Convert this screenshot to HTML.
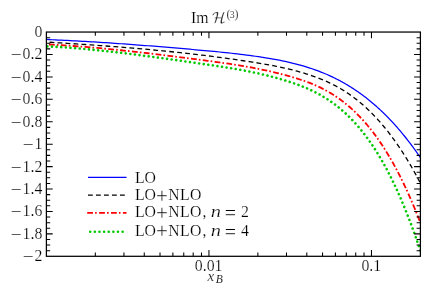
<!DOCTYPE html>
<html><head><meta charset="utf-8"><title>Im H(3)</title>
<style>
html,body{margin:0;padding:0;background:#fff;}
svg{display:block;}
text{font-family:"Liberation Serif",serif;fill:#000;stroke:#fff;stroke-width:0.2px;}
</style></head>
<body>
<svg width="442" height="290" viewBox="0 0 442 290">
<rect x="0" y="0" width="442" height="290" fill="#fff"/>
<defs><clipPath id="c"><rect x="46.4" y="32.05" width="374.0" height="224.25"/></clipPath></defs>
<g fill="none" clip-path="url(#c)">
<path d="M46.4,39.48 L49.4,39.61 L52.4,39.75 L55.4,39.88 L58.3,40.02 L61.3,40.17 L64.3,40.31 L67.3,40.46 L70.3,40.62 L73.3,40.78 L76.3,40.94 L79.2,41.10 L82.2,41.27 L85.2,41.44 L88.2,41.62 L91.2,41.80 L94.2,41.98 L97.1,42.16 L100.1,42.35 L103.1,42.54 L106.1,42.73 L109.1,42.93 L112.1,43.13 L115.1,43.33 L118.0,43.54 L121.0,43.75 L124.0,43.96 L127.0,44.17 L130.0,44.39 L133.0,44.61 L136.0,44.83 L138.9,45.06 L141.9,45.28 L144.9,45.51 L147.9,45.75 L150.9,45.98 L153.9,46.22 L156.9,46.46 L159.8,46.70 L162.8,46.94 L165.8,47.19 L168.8,47.44 L171.8,47.69 L174.8,47.94 L177.8,48.20 L180.7,48.46 L183.7,48.72 L186.7,48.98 L189.7,49.24 L192.7,49.50 L195.7,49.77 L198.6,50.04 L201.6,50.31 L204.6,50.58 L207.6,50.86 L210.6,51.14 L213.6,51.42 L216.6,51.71 L219.5,52.00 L222.5,52.31 L225.5,52.61 L228.5,52.93 L231.5,53.25 L234.5,53.59 L237.5,53.93 L240.4,54.29 L243.4,54.65 L246.4,55.03 L249.4,55.42 L252.4,55.83 L255.4,56.25 L258.4,56.68 L261.3,57.14 L264.3,57.60 L267.3,58.09 L270.3,58.59 L273.3,59.12 L276.3,59.66 L279.3,60.23 L282.2,60.83 L285.2,61.45 L288.2,62.11 L291.2,62.80 L294.2,63.53 L297.2,64.29 L300.1,65.10 L303.1,65.95 L306.1,66.84 L309.1,67.78 L312.1,68.77 L315.1,69.81 L318.1,70.90 L321.0,72.05 L324.0,73.26 L327.0,74.53 L330.0,75.87 L331.0,76.33 L331.6,76.61 L332.2,76.89 L332.8,77.18 L333.4,77.46 L334.0,77.76 L334.6,78.05 L335.2,78.35 L335.8,78.65 L336.4,78.95 L337.0,79.25 L337.6,79.56 L338.2,79.87 L338.8,80.18 L339.4,80.50 L340.0,80.82 L340.6,81.14 L341.2,81.47 L341.8,81.80 L342.4,82.13 L343.0,82.46 L343.6,82.80 L344.2,83.14 L344.8,83.48 L345.4,83.83 L346.0,84.18 L346.6,84.53 L347.2,84.89 L347.8,85.25 L348.4,85.61 L349.0,85.98 L349.6,86.35 L350.2,86.72 L350.8,87.09 L351.4,87.47 L352.0,87.85 L352.6,88.24 L353.2,88.63 L353.8,89.02 L354.4,89.41 L355.0,89.81 L355.6,90.21 L356.2,90.62 L356.8,91.03 L357.4,91.44 L358.0,91.86 L358.6,92.28 L359.2,92.70 L359.8,93.12 L360.4,93.55 L361.0,93.99 L361.6,94.42 L362.2,94.86 L362.8,95.31 L363.4,95.76 L364.0,96.21 L364.6,96.66 L365.2,97.12 L365.8,97.59 L366.4,98.05 L367.0,98.52 L367.6,99.00 L368.2,99.47 L368.8,99.95 L369.4,100.44 L370.0,100.93 L370.6,101.42 L371.2,101.92 L371.8,102.42 L372.4,102.92 L373.0,103.43 L373.6,103.95 L374.2,104.46 L374.8,104.98 L375.4,105.51 L376.0,106.04 L376.6,106.57 L377.2,107.10 L377.8,107.65 L378.4,108.19 L379.0,108.74 L379.6,109.29 L380.2,109.85 L380.8,110.41 L381.4,110.98 L382.0,111.55 L382.6,112.12 L383.2,112.70 L383.8,113.28 L384.4,113.87 L385.0,114.46 L385.6,115.05 L386.2,115.65 L386.8,116.26 L387.4,116.87 L388.0,117.48 L388.6,118.10 L389.2,118.72 L389.8,119.35 L390.4,119.98 L391.0,120.61 L391.6,121.25 L392.2,121.90 L392.8,122.54 L393.4,123.20 L394.0,123.86 L394.6,124.52 L395.2,125.19 L395.8,125.86 L396.4,126.53 L397.0,127.21 L397.6,127.90 L398.2,128.59 L398.8,129.29 L399.4,129.99 L400.0,130.69 L400.6,131.40 L401.2,132.11 L401.8,132.83 L402.4,133.56 L403.0,134.28 L403.6,135.02 L404.2,135.76 L404.8,136.50 L405.4,137.25 L406.0,138.00 L406.6,138.76 L407.2,139.52 L407.8,140.29 L408.4,141.06 L409.0,141.84 L409.6,142.62 L410.2,143.41 L410.8,144.21 L411.4,145.00 L412.0,145.81 L412.6,146.62 L413.2,147.43 L413.8,148.25 L414.4,149.07 L415.0,149.90 L415.6,150.74 L416.2,151.58 L416.8,152.42 L417.4,153.27 L418.0,154.13 L418.6,154.99 L419.2,155.85 L419.8,156.73 L420.4,157.60" stroke="#0000ff" stroke-width="1.25" stroke-linejoin="round" stroke-linecap="butt"/>
<path d="M46.4,42.06 L49.4,42.24 L52.4,42.42 L55.4,42.60 L58.3,42.78 L61.3,42.97 L64.3,43.15 L67.3,43.34 L70.3,43.53 L73.3,43.72 L76.3,43.92 L79.2,44.12 L82.2,44.31 L85.2,44.52 L88.2,44.72 L91.2,44.93 L94.2,45.14 L97.1,45.35 L100.1,45.56 L103.1,45.78 L106.1,46.00 L109.1,46.23 L112.1,46.45 L115.1,46.68 L118.0,46.92 L121.0,47.15 L124.0,47.39 L127.0,47.64 L130.0,47.89 L133.0,48.14 L136.0,48.39 L138.9,48.65 L141.9,48.91 L144.9,49.18 L147.9,49.45 L150.9,49.73 L153.9,50.00 L156.9,50.29 L159.8,50.58 L162.8,50.87 L165.8,51.16 L168.8,51.47 L171.8,51.77 L174.8,52.08 L177.8,52.40 L180.7,52.72 L183.7,53.05 L186.7,53.38 L189.7,53.71 L192.7,54.05 L195.7,54.40 L198.6,54.75 L201.6,55.11 L204.6,55.47 L207.6,55.84 L210.6,56.22 L213.6,56.60 L216.6,56.98 L219.5,57.37 L222.5,57.77 L225.5,58.18 L228.5,58.59 L231.5,59.00 L234.5,59.43 L237.5,59.86 L240.4,60.29 L243.4,60.74 L246.4,61.18 L249.4,61.64 L252.4,62.10 L255.4,62.57 L258.4,63.06 L261.3,63.55 L264.3,64.06 L267.3,64.58 L270.3,65.13 L273.3,65.69 L276.3,66.28 L279.3,66.89 L282.2,67.53 L285.2,68.19 L288.2,68.89 L291.2,69.61 L294.2,70.38 L297.2,71.18 L300.1,72.01 L303.1,72.89 L306.1,73.81 L309.1,74.77 L312.1,75.78 L315.1,76.84 L318.1,77.96 L321.0,79.13 L324.0,80.37 L327.0,81.68 L330.0,83.07 L331.0,83.55 L331.6,83.84 L332.2,84.14 L332.8,84.44 L333.4,84.75 L334.0,85.06 L334.6,85.37 L335.2,85.68 L335.8,86.00 L336.4,86.33 L337.0,86.65 L337.6,86.99 L338.2,87.32 L338.8,87.66 L339.4,88.00 L340.0,88.35 L340.6,88.70 L341.2,89.06 L341.8,89.42 L342.4,89.78 L343.0,90.15 L343.6,90.52 L344.2,90.89 L344.8,91.28 L345.4,91.66 L346.0,92.05 L346.6,92.44 L347.2,92.84 L347.8,93.24 L348.4,93.65 L349.0,94.06 L349.6,94.48 L350.2,94.90 L350.8,95.32 L351.4,95.75 L352.0,96.18 L352.6,96.62 L353.2,97.07 L353.8,97.51 L354.4,97.96 L355.0,98.42 L355.6,98.88 L356.2,99.35 L356.8,99.82 L357.4,100.30 L358.0,100.78 L358.6,101.26 L359.2,101.75 L359.8,102.25 L360.4,102.75 L361.0,103.26 L361.6,103.77 L362.2,104.28 L362.8,104.80 L363.4,105.33 L364.0,105.86 L364.6,106.40 L365.2,106.94 L365.8,107.49 L366.4,108.04 L367.0,108.60 L367.6,109.16 L368.2,109.73 L368.8,110.30 L369.4,110.88 L370.0,111.47 L370.6,112.06 L371.2,112.65 L371.8,113.25 L372.4,113.86 L373.0,114.47 L373.6,115.09 L374.2,115.71 L374.8,116.34 L375.4,116.98 L376.0,117.62 L376.6,118.27 L377.2,118.92 L377.8,119.58 L378.4,120.24 L379.0,120.91 L379.6,121.59 L380.2,122.27 L380.8,122.96 L381.4,123.65 L382.0,124.35 L382.6,125.06 L383.2,125.77 L383.8,126.49 L384.4,127.21 L385.0,127.94 L385.6,128.68 L386.2,129.43 L386.8,130.18 L387.4,130.93 L388.0,131.69 L388.6,132.46 L389.2,133.24 L389.8,134.02 L390.4,134.81 L391.0,135.60 L391.6,136.40 L392.2,137.21 L392.8,138.03 L393.4,138.85 L394.0,139.68 L394.6,140.51 L395.2,141.35 L395.8,142.20 L396.4,143.05 L397.0,143.92 L397.6,144.78 L398.2,145.66 L398.8,146.54 L399.4,147.43 L400.0,148.33 L400.6,149.23 L401.2,150.14 L401.8,151.06 L402.4,151.98 L403.0,152.91 L403.6,153.85 L404.2,154.80 L404.8,155.75 L405.4,156.71 L406.0,157.68 L406.6,158.65 L407.2,159.63 L407.8,160.62 L408.4,161.62 L409.0,162.62 L409.6,163.64 L410.2,164.66 L410.8,165.68 L411.4,166.72 L412.0,167.76 L412.6,168.81 L413.2,169.86 L413.8,170.93 L414.4,172.00 L415.0,173.08 L415.6,174.17 L416.2,175.26 L416.8,176.37 L417.4,177.48 L418.0,178.60 L418.6,179.72 L419.2,180.86 L419.8,182.00 L420.4,183.15" stroke="#000000" stroke-width="1.3" stroke-linejoin="round" stroke-dasharray="4.8 3.2" stroke-linecap="butt" stroke-dashoffset="4.8"/>
<path d="M46.4,44.37 L49.4,44.52 L52.4,44.68 L55.4,44.85 L58.3,45.02 L61.3,45.21 L64.3,45.40 L67.3,45.59 L70.3,45.80 L73.3,46.01 L76.3,46.23 L79.2,46.46 L82.2,46.69 L85.2,46.93 L88.2,47.17 L91.2,47.43 L94.2,47.69 L97.1,47.95 L100.1,48.22 L103.1,48.50 L106.1,48.78 L109.1,49.07 L112.1,49.36 L115.1,49.66 L118.0,49.96 L121.0,50.27 L124.0,50.58 L127.0,50.90 L130.0,51.23 L133.0,51.55 L136.0,51.88 L138.9,52.22 L141.9,52.56 L144.9,52.90 L147.9,53.25 L150.9,53.60 L153.9,53.96 L156.9,54.32 L159.8,54.68 L162.8,55.04 L165.8,55.41 L168.8,55.78 L171.8,56.15 L174.8,56.53 L177.8,56.91 L180.7,57.29 L183.7,57.67 L186.7,58.06 L189.7,58.44 L192.7,58.83 L195.7,59.22 L198.6,59.61 L201.6,60.01 L204.6,60.40 L207.6,60.80 L210.6,61.20 L213.6,61.60 L216.6,62.02 L219.5,62.43 L222.5,62.86 L225.5,63.29 L228.5,63.73 L231.5,64.19 L234.5,64.65 L237.5,65.12 L240.4,65.61 L243.4,66.11 L246.4,66.63 L249.4,67.16 L252.4,67.71 L255.4,68.28 L258.4,68.86 L261.3,69.46 L264.3,70.09 L267.3,70.73 L270.3,71.40 L273.3,72.09 L276.3,72.80 L279.3,73.54 L282.2,74.30 L285.2,75.09 L288.2,75.91 L291.2,76.75 L294.2,77.63 L297.2,78.54 L300.1,79.50 L303.1,80.51 L306.1,81.57 L309.1,82.69 L312.1,83.88 L315.1,85.15 L318.1,86.49 L321.0,87.91 L324.0,89.43 L327.0,91.04 L330.0,92.76 L331.0,93.35 L331.6,93.72 L332.2,94.09 L332.8,94.46 L333.4,94.84 L334.0,95.23 L334.6,95.61 L335.2,96.01 L335.8,96.40 L336.4,96.81 L337.0,97.21 L337.6,97.63 L338.2,98.04 L338.8,98.47 L339.4,98.89 L340.0,99.33 L340.6,99.76 L341.2,100.21 L341.8,100.65 L342.4,101.11 L343.0,101.57 L343.6,102.03 L344.2,102.50 L344.8,102.98 L345.4,103.46 L346.0,103.94 L346.6,104.43 L347.2,104.93 L347.8,105.43 L348.4,105.94 L349.0,106.46 L349.6,106.98 L350.2,107.50 L350.8,108.04 L351.4,108.57 L352.0,109.12 L352.6,109.67 L353.2,110.22 L353.8,110.79 L354.4,111.36 L355.0,111.93 L355.6,112.51 L356.2,113.10 L356.8,113.69 L357.4,114.29 L358.0,114.90 L358.6,115.51 L359.2,116.13 L359.8,116.75 L360.4,117.39 L361.0,118.02 L361.6,118.67 L362.2,119.32 L362.8,119.98 L363.4,120.65 L364.0,121.32 L364.6,122.00 L365.2,122.68 L365.8,123.38 L366.4,124.08 L367.0,124.78 L367.6,125.50 L368.2,126.22 L368.8,126.95 L369.4,127.68 L370.0,128.43 L370.6,129.18 L371.2,129.94 L371.8,130.70 L372.4,131.48 L373.0,132.26 L373.6,133.05 L374.2,133.84 L374.8,134.65 L375.4,135.46 L376.0,136.28 L376.6,137.11 L377.2,137.94 L377.8,138.79 L378.4,139.64 L379.0,140.50 L379.6,141.37 L380.2,142.25 L380.8,143.13 L381.4,144.03 L382.0,144.93 L382.6,145.84 L383.2,146.76 L383.8,147.69 L384.4,148.62 L385.0,149.57 L385.6,150.52 L386.2,151.49 L386.8,152.46 L387.4,153.44 L388.0,154.43 L388.6,155.43 L389.2,156.44 L389.8,157.45 L390.4,158.48 L391.0,159.51 L391.6,160.56 L392.2,161.61 L392.8,162.68 L393.4,163.75 L394.0,164.83 L394.6,165.93 L395.2,167.03 L395.8,168.14 L396.4,169.26 L397.0,170.39 L397.6,171.54 L398.2,172.69 L398.8,173.85 L399.4,175.02 L400.0,176.20 L400.6,177.39 L401.2,178.59 L401.8,179.81 L402.4,181.03 L403.0,182.26 L403.6,183.51 L404.2,184.76 L404.8,186.02 L405.4,187.30 L406.0,188.58 L406.6,189.88 L407.2,191.19 L407.8,192.50 L408.4,193.83 L409.0,195.17 L409.6,196.52 L410.2,197.88 L410.8,199.26 L411.4,200.64 L412.0,202.04 L412.6,203.44 L413.2,204.86 L413.8,206.29 L414.4,207.73 L415.0,209.18 L415.6,210.64 L416.2,212.12 L416.8,213.60 L417.4,215.10 L418.0,216.61 L418.6,218.13 L419.2,219.67 L419.8,221.21 L420.4,222.77" stroke="#ff0000" stroke-width="1.8" stroke-linejoin="round" stroke-dasharray="5.8 2.1 1.6 2.4" stroke-linecap="butt" stroke-dashoffset="9.35"/>
<path d="M46.4,46.29 L49.4,46.44 L52.4,46.61 L55.4,46.78 L58.3,46.97 L61.3,47.16 L64.3,47.37 L67.3,47.58 L70.3,47.81 L73.3,48.04 L76.3,48.28 L79.2,48.53 L82.2,48.79 L85.2,49.06 L88.2,49.34 L91.2,49.62 L94.2,49.92 L97.1,50.22 L100.1,50.52 L103.1,50.84 L106.1,51.16 L109.1,51.49 L112.1,51.82 L115.1,52.16 L118.0,52.51 L121.0,52.86 L124.0,53.22 L127.0,53.58 L130.0,53.95 L133.0,54.33 L136.0,54.70 L138.9,55.09 L141.9,55.47 L144.9,55.87 L147.9,56.26 L150.9,56.66 L153.9,57.06 L156.9,57.47 L159.8,57.88 L162.8,58.29 L165.8,58.70 L168.8,59.12 L171.8,59.54 L174.8,59.96 L177.8,60.38 L180.7,60.80 L183.7,61.23 L186.7,61.65 L189.7,62.08 L192.7,62.51 L195.7,62.94 L198.6,63.37 L201.6,63.80 L204.6,64.22 L207.6,64.66 L210.6,65.09 L213.6,65.53 L216.6,65.97 L219.5,66.42 L222.5,66.88 L225.5,67.35 L228.5,67.82 L231.5,68.31 L234.5,68.82 L237.5,69.33 L240.4,69.86 L243.4,70.41 L246.4,70.97 L249.4,71.56 L252.4,72.16 L255.4,72.79 L258.4,73.43 L261.3,74.10 L264.3,74.80 L267.3,75.52 L270.3,76.27 L273.3,77.05 L276.3,77.86 L279.3,78.69 L282.2,79.56 L285.2,80.47 L288.2,81.41 L291.2,82.38 L294.2,83.39 L297.2,84.45 L300.1,85.56 L303.1,86.73 L306.1,87.97 L309.1,89.27 L312.1,90.65 L315.1,92.12 L318.1,93.68 L321.0,95.33 L324.0,97.08 L327.0,98.95 L330.0,100.93 L331.0,101.62 L331.6,102.04 L332.2,102.47 L332.8,102.90 L333.4,103.33 L334.0,103.78 L334.6,104.22 L335.2,104.68 L335.8,105.13 L336.4,105.60 L337.0,106.06 L337.6,106.54 L338.2,107.02 L338.8,107.50 L339.4,107.99 L340.0,108.49 L340.6,108.99 L341.2,109.50 L341.8,110.02 L342.4,110.54 L343.0,111.06 L343.6,111.59 L344.2,112.13 L344.8,112.68 L345.4,113.23 L346.0,113.79 L346.6,114.35 L347.2,114.92 L347.8,115.49 L348.4,116.08 L349.0,116.67 L349.6,117.26 L350.2,117.86 L350.8,118.47 L351.4,119.09 L352.0,119.71 L352.6,120.34 L353.2,120.98 L353.8,121.62 L354.4,122.27 L355.0,122.93 L355.6,123.59 L356.2,124.26 L356.8,124.94 L357.4,125.63 L358.0,126.32 L358.6,127.02 L359.2,127.73 L359.8,128.45 L360.4,129.17 L361.0,129.90 L361.6,130.64 L362.2,131.38 L362.8,132.14 L363.4,132.90 L364.0,133.67 L364.6,134.45 L365.2,135.23 L365.8,136.03 L366.4,136.83 L367.0,137.64 L367.6,138.46 L368.2,139.29 L368.8,140.12 L369.4,140.97 L370.0,141.82 L370.6,142.68 L371.2,143.55 L371.8,144.43 L372.4,145.32 L373.0,146.21 L373.6,147.12 L374.2,148.03 L374.8,148.96 L375.4,149.89 L376.0,150.83 L376.6,151.79 L377.2,152.75 L377.8,153.72 L378.4,154.70 L379.0,155.69 L379.6,156.69 L380.2,157.70 L380.8,158.71 L381.4,159.74 L382.0,160.78 L382.6,161.83 L383.2,162.89 L383.8,163.96 L384.4,165.03 L385.0,166.12 L385.6,167.22 L386.2,168.33 L386.8,169.45 L387.4,170.58 L388.0,171.72 L388.6,172.88 L389.2,174.04 L389.8,175.21 L390.4,176.39 L391.0,177.59 L391.6,178.80 L392.2,180.01 L392.8,181.24 L393.4,182.48 L394.0,183.73 L394.6,184.99 L395.2,186.26 L395.8,187.55 L396.4,188.84 L397.0,190.15 L397.6,191.47 L398.2,192.80 L398.8,194.14 L399.4,195.49 L400.0,196.86 L400.6,198.24 L401.2,199.63 L401.8,201.03 L402.4,202.44 L403.0,203.87 L403.6,205.31 L404.2,206.76 L404.8,208.22 L405.4,209.70 L406.0,211.18 L406.6,212.68 L407.2,214.20 L407.8,215.72 L408.4,217.26 L409.0,218.81 L409.6,220.38 L410.2,221.95 L410.8,223.54 L411.4,225.15 L412.0,226.76 L412.6,228.39 L413.2,230.04 L413.8,231.69 L414.4,233.36 L415.0,235.05 L415.6,236.74 L416.2,238.45 L416.8,240.18 L417.4,241.92 L418.0,243.67 L418.6,245.43 L419.2,247.21 L419.8,249.01 L420.4,250.81" stroke="#00c800" stroke-width="2.6" stroke-linejoin="round" stroke-dasharray="0.01 4.62" stroke-linecap="round" stroke-dashoffset="3.68"/>
</g>
<path d="M46.4,37.66h3.8M420.4,37.66h-3.8M46.4,43.26h3.8M420.4,43.26h-3.8M46.4,48.87h3.8M420.4,48.87h-3.8M46.4,54.47h6.3M420.4,54.47h-6.3M46.4,60.08h3.8M420.4,60.08h-3.8M46.4,65.69h3.8M420.4,65.69h-3.8M46.4,71.29h3.8M420.4,71.29h-3.8M46.4,76.90h6.3M420.4,76.90h-6.3M46.4,82.51h3.8M420.4,82.51h-3.8M46.4,88.11h3.8M420.4,88.11h-3.8M46.4,93.72h3.8M420.4,93.72h-3.8M46.4,99.33h6.3M420.4,99.33h-6.3M46.4,104.93h3.8M420.4,104.93h-3.8M46.4,110.54h3.8M420.4,110.54h-3.8M46.4,116.14h3.8M420.4,116.14h-3.8M46.4,121.75h6.3M420.4,121.75h-6.3M46.4,127.36h3.8M420.4,127.36h-3.8M46.4,132.96h3.8M420.4,132.96h-3.8M46.4,138.57h3.8M420.4,138.57h-3.8M46.4,144.18h6.3M420.4,144.18h-6.3M46.4,149.78h3.8M420.4,149.78h-3.8M46.4,155.39h3.8M420.4,155.39h-3.8M46.4,160.99h3.8M420.4,160.99h-3.8M46.4,166.60h6.3M420.4,166.60h-6.3M46.4,172.21h3.8M420.4,172.21h-3.8M46.4,177.81h3.8M420.4,177.81h-3.8M46.4,183.42h3.8M420.4,183.42h-3.8M46.4,189.03h6.3M420.4,189.03h-6.3M46.4,194.63h3.8M420.4,194.63h-3.8M46.4,200.24h3.8M420.4,200.24h-3.8M46.4,205.84h3.8M420.4,205.84h-3.8M46.4,211.45h6.3M420.4,211.45h-6.3M46.4,217.06h3.8M420.4,217.06h-3.8M46.4,222.66h3.8M420.4,222.66h-3.8M46.4,228.27h3.8M420.4,228.27h-3.8M46.4,233.88h6.3M420.4,233.88h-6.3M46.4,239.48h3.8M420.4,239.48h-3.8M46.4,245.09h3.8M420.4,245.09h-3.8M46.4,250.69h3.8M420.4,250.69h-3.8M95.33,256.3v-3.8M95.33,32.05v3.8M123.95,256.3v-3.8M123.95,32.05v3.8M144.26,256.3v-3.8M144.26,32.05v3.8M160.01,256.3v-3.8M160.01,32.05v3.8M172.88,256.3v-3.8M172.88,32.05v3.8M183.76,256.3v-3.8M183.76,32.05v3.8M193.18,256.3v-3.8M193.18,32.05v3.8M201.50,256.3v-3.8M201.50,32.05v3.8M208.94,256.3v-6.3M208.94,32.05v6.3M257.86,256.3v-3.8M257.86,32.05v3.8M286.49,256.3v-3.8M286.49,32.05v3.8M306.79,256.3v-3.8M306.79,32.05v3.8M322.54,256.3v-3.8M322.54,32.05v3.8M335.41,256.3v-3.8M335.41,32.05v3.8M346.29,256.3v-3.8M346.29,32.05v3.8M355.72,256.3v-3.8M355.72,32.05v3.8M364.03,256.3v-3.8M364.03,32.05v3.8M371.47,256.3v-6.3M371.47,32.05v6.3" stroke="#000" stroke-width="1.05" fill="none"/>
<rect x="46.4" y="32.05" width="374.00" height="224.25" fill="none" stroke="#000" stroke-width="1.25"/>
<g style="filter:grayscale(1)">
<text x="42.30" y="37.00" font-size="15.8" text-anchor="end">0</text>
<text x="42.30" y="59.00" font-size="15.8" text-anchor="end">0.2</text>
<text x="10.83" y="61.00" font-size="19.5">−</text>
<text x="42.30" y="82.00" font-size="15.8" text-anchor="end">0.4</text>
<text x="10.83" y="84.00" font-size="19.5">−</text>
<text x="42.30" y="104.00" font-size="15.8" text-anchor="end">0.6</text>
<text x="10.83" y="106.00" font-size="19.5">−</text>
<text x="42.30" y="127.00" font-size="15.8" text-anchor="end">0.8</text>
<text x="10.83" y="129.00" font-size="19.5">−</text>
<text x="42.30" y="149.00" font-size="15.8" text-anchor="end">1</text>
<text x="22.82" y="151.00" font-size="19.5">−</text>
<text x="42.30" y="172.00" font-size="15.8" text-anchor="end">1.2</text>
<text x="10.83" y="174.00" font-size="19.5">−</text>
<text x="42.30" y="194.00" font-size="15.8" text-anchor="end">1.4</text>
<text x="10.83" y="196.00" font-size="19.5">−</text>
<text x="42.30" y="216.00" font-size="15.8" text-anchor="end">1.6</text>
<text x="10.83" y="218.00" font-size="19.5">−</text>
<text x="42.30" y="239.00" font-size="15.8" text-anchor="end">1.8</text>
<text x="10.83" y="241.00" font-size="19.5">−</text>
<text x="42.30" y="261.00" font-size="15.8" text-anchor="end">2</text>
<text x="22.82" y="263.00" font-size="19.5">−</text>
<text x="194.80" y="271.00" font-size="15.8">0.01</text>
<text x="361.40" y="271.00" font-size="15.8">0.1</text>
<text x="207.40" y="281.00" font-size="15" font-style="italic">x</text>
<text x="215.80" y="283.00" font-size="11.6" font-style="italic" style="stroke-width:0.1px">B</text>
<text x="191.00" y="23.00" font-size="15.8">Im</text>
<text y="18" font-size="12" style="stroke-width:0.2px"><tspan x="226.5">(</tspan><tspan x="229.4" font-size="10.4">3</tspan><tspan x="234.6">)</tspan></text>
<g transform="translate(212.2,22.7) scale(0.007617,-0.007617)"><title>ℋ</title><path d="M283 -68Q283 -63 285 -57Q316 21 357.5 136.5Q399 252 433.0 359.5Q467 467 496 569H309Q295 576 295 586Q295 620 355.0 653.0Q415 686 453 690H528Q563 823 589.5 961.0Q616 1099 616 1194Q616 1230 589.0 1254.0Q562 1278 526 1278Q409 1278 339.5 1235.0Q270 1192 219 1087Q199 1053 151.0 1023.0Q103 993 66 993H53Q39 1000 39 1010Q39 1016 41 1020Q84 1107 150.5 1177.5Q217 1248 299.0 1297.0Q381 1346 476.0 1372.5Q571 1399 666 1399H678Q727 1399 763.0 1365.0Q799 1331 799 1282Q799 1166 764.0 1000.5Q729 835 688 690H1219Q1305 987 1427 1305Q1449 1343 1493.0 1368.5Q1537 1394 1581 1399H1593Q1608 1392 1608 1382Q1608 1378 1606 1372Q1573 1291 1532.0 1176.0Q1491 1061 1466.5 985.0Q1442 909 1399 764Q1268 288 1268 102Q1268 69 1291.5 44.5Q1315 20 1350 20Q1396 20 1450 33Q1458 50 1463.0 62.5Q1468 75 1476.5 85.0Q1485 95 1503 109Q1562 152 1618 160H1628Q1642 153 1642 139Q1619 57 1548.0 3.5Q1477 -50 1385.0 -75.0Q1293 -100 1202 -100Q1151 -100 1118.0 -67.0Q1085 -34 1085 14Q1085 197 1192 590Q1153 571 1126 569H653Q615 439 568.5 301.5Q522 164 463 10Q443 -25 397.5 -52.0Q352 -79 307 -84H297Q293 -82 288.0 -78.0Q283 -74 283 -68Z" fill="#000" stroke="#fff" stroke-width="40"/></g>
<text x="134.94" y="183.00" font-size="15.8">LO</text>
<text x="134.94" y="200.00" font-size="15.8">LO</text>
<text x="155.95" y="203.00" font-size="21">+</text>
<text x="168.24" y="200.00" font-size="15.8" letter-spacing="0.35">NLO</text>
<text x="134.94" y="217.00" font-size="15.8">LO</text>
<text x="155.95" y="220.00" font-size="21">+</text>
<text x="168.24" y="217.00" font-size="15.8" letter-spacing="0.35">NLO</text>
<text x="202.40" y="217.00" font-size="15.8">,</text>
<text x="210.66" y="217.00" font-size="15.8" font-style="italic" textLength="10.27" lengthAdjust="spacingAndGlyphs">n</text>
<text x="224.70" y="220.00" font-size="20">=</text>
<text x="241.00" y="217.00" font-size="15.8">2</text>
<text x="134.94" y="236.00" font-size="15.8">LO</text>
<text x="155.95" y="238.00" font-size="21">+</text>
<text x="168.24" y="236.00" font-size="15.8" letter-spacing="0.35">NLO</text>
<text x="202.40" y="236.00" font-size="15.8">,</text>
<text x="210.66" y="236.00" font-size="15.8" font-style="italic" textLength="10.27" lengthAdjust="spacingAndGlyphs">n</text>
<text x="224.70" y="239.00" font-size="20">=</text>
<text x="241.00" y="236.00" font-size="15.8">4</text>
</g>
<path d="M88,177.35H126.5" stroke="#0000ff" stroke-width="1.25" fill="none" stroke-linecap="butt"/>
<path d="M88,195.1H126.5" stroke="#000000" stroke-width="1.3" fill="none" stroke-dasharray="4.8 3.2" stroke-linecap="butt"/>
<path d="M87.2,212.85H126.5" stroke="#ff0000" stroke-width="1.8" fill="none" stroke-dasharray="5.8 2.1 1.6 2.4" stroke-linecap="butt"/>
<path d="M88,231.75H126.5" stroke="#00c800" stroke-width="2.6" fill="none" stroke-dasharray="0.01 4.62" stroke-linecap="round" stroke-dashoffset="-2.2"/>
</svg>
</body></html>
